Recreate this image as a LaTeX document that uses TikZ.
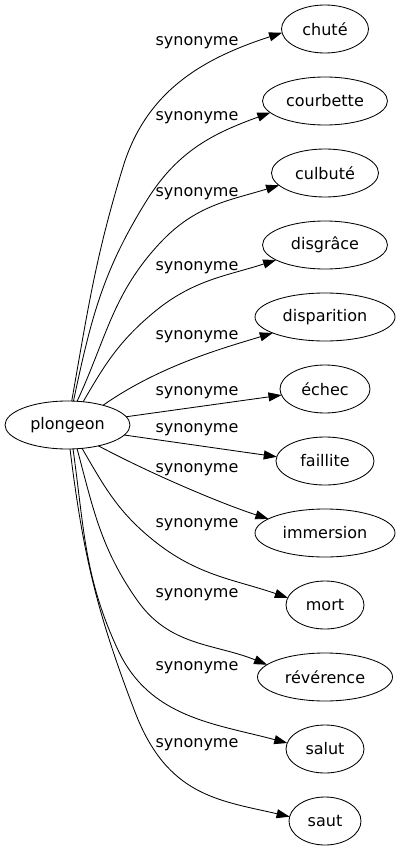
\documentclass[tikz,border=0pt]{standalone}
\usepackage{fontspec}
\setmainfont{DejaVu Sans}
\usetikzlibrary{shapes.geometric,arrows.meta}
\begin{document}
\begin{tikzpicture}[x=1pt,y=1pt,
  every node/.style={font=\fontsize{16}{19}\selectfont},
  nd/.style={ellipse, draw, line width=0.85pt, inner sep=0pt, outer sep=0pt, minimum height=48pt},
  lbl/.style={inner sep=0pt},
  syn/.style={line width=0.85pt, -{Triangle[length=13pt,width=9pt]}}]
\useasboundingbox (0,0) rectangle (400,-851);
\node[nd, minimum width=125pt] (p) at (67.5,-425) {plongeon};
\node[nd, minimum width=87pt]  (n1)  at (325,-29)  {chuté};
\node[nd, minimum width=125pt] (n2)  at (325,-101) {courbette};
\node[nd, minimum width=107pt] (n3)  at (325,-173) {culbuté};
\node[nd, minimum width=125pt] (n4)  at (325,-245) {disgrâce};
\node[nd, minimum width=140pt] (n5)  at (325,-317) {disparition};
\node[nd, minimum width=90pt]  (n6)  at (325,-389) {échec};
\node[nd, minimum width=98pt]  (n7)  at (325,-461) {faillite};
\node[nd, minimum width=140pt] (n8)  at (325,-533) {immersion};
\node[nd, minimum width=78pt]  (n9)  at (325,-605) {mort};
\node[nd, minimum width=135pt] (n10) at (325,-677) {révérence};
\node[nd, minimum width=78pt]  (n11) at (325,-749) {salut};
\node[nd, minimum width=72pt]  (n12) at (325,-821) {saut};

\node[lbl] (l1)  at (197,-42.5) {synonyme};
\node[lbl] (l2)  at (197,-118) {synonyme};
\node[lbl] (l3)  at (197,-194) {synonyme};
\node[lbl] (l4)  at (197,-268) {synonyme};
\node[lbl] (l5)  at (197,-337) {synonyme};
\node[lbl] (l6)  at (197,-393) {synonyme};
\node[lbl] (l7)  at (197,-430) {synonyme};
\node[lbl] (l8)  at (197,-470) {synonyme};
\node[lbl] (l9)  at (197,-525) {synonyme};
\node[lbl] (l10) at (197,-595) {synonyme};
\node[lbl] (l11) at (197,-668) {synonyme};
\node[lbl] (l12) at (197,-745) {synonyme};

\draw[syn] (p.80) .. controls +(80:94) and +(253:94) .. (123,-167) .. controls +(73:81) and +(198:81) .. (n1.185);
\draw[syn] (p.76) .. controls +(78:84) and +(238:84) .. (147,-200) .. controls +(58:59) and +(200:59) .. (n2.192);
\draw[syn] (p.68) .. controls +(65:70) and +(227:70) .. (160,-243) .. controls +(47:52) and +(197:52) .. (n3.195);
\draw[syn] (p.56) .. controls +(60:44) and +(220:44) .. (153,-313) .. controls +(40:52) and +(198:52) .. (n4.197);
\draw[syn] (p.29) .. controls +(35:70) and +(197:50) .. (n5.197);
\draw[syn] (p.8) -- (n6.188);
\draw[syn] (p.350) -- (n7.175);
\draw[syn] (p.326) .. controls +(-28:60) and +(162:50) .. (n8.166);
\draw[syn] (p.302) .. controls +(-60:45) and +(141:45) .. (153,-540) .. controls +(-39:57) and +(161:57) .. (n9.169);
\draw[syn] (p.292) .. controls +(-75:63) and +(125:63) .. (137,-600) .. controls +(-55:57) and +(158:57) .. (n10.168);
\draw[syn] (p.283) .. controls +(-82:80) and +(115:80) .. (118,-650) .. controls +(-65:75) and +(165:75) .. (n11.171);
\draw[syn] (p.276) .. controls +(-83:106) and +(111:106) .. (135,-712) .. controls +(-69:90) and +(167:73) .. (n12.173);
\end{tikzpicture}
\end{document}
